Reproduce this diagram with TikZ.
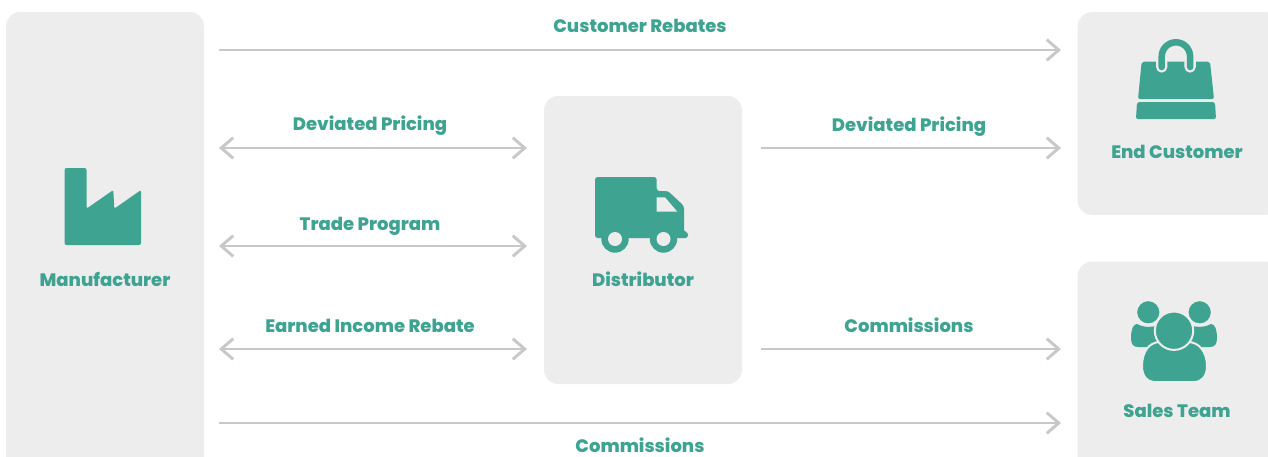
\documentclass[tikz,border=0pt]{standalone}
\usepackage{fontspec}
\setmainfont{Poppins}[BoldFont={Poppins ExtraBold}]
\usetikzlibrary{arrows.meta}
\definecolor{boxgray}{HTML}{EDEDED}
\definecolor{iconteal}{HTML}{3FA392}
\definecolor{linegray}{HTML}{C8C8C8}
\tikzset{
  panel/.style={fill=boxgray,rounded corners=10.5pt,minimum width=#1,inner sep=0pt,outer sep=0pt},
  lbl/.style={text=iconteal,font=\bfseries\fontsize{13.5pt}{16pt}\selectfont,inner sep=0pt,anchor=base},
  flow/.style={draw=linegray,line width=2.2pt,-{Straight Barb[length=9pt,width=15.5pt]}},
  flowboth/.style={flow,{Straight Barb[length=9pt,width=15.5pt]}-{Straight Barb[length=9pt,width=15.5pt]}},
  icon/.style={fill=iconteal,draw=none}
}
\begin{document}
\begin{tikzpicture}[x=0.75pt,y=-0.75pt]
\useasboundingbox (0,0) rectangle (1268,457);
\clip (0,0) rectangle (1268,457);
% panels
\node[panel=148.5pt,minimum height=390pt] (manufacturer) at (105,272) {};
\node[panel=148.5pt,minimum height=216pt] (distributor) at (643,240) {};
\node[panel=152pt,minimum height=152pt] (endcustomer) at (1179,113.5) {};
\node[panel=152pt,minimum height=200pt] (salesteam) at (1179,395) {};
% factory
\fill[icon,rounded corners=1.5pt] (64.5,168) -- (86.5,168) -- (86.5,208.7) -- (113.3,190) -- (114.3,208.7) -- (141,190) -- (141,245) -- (64.5,245) -- cycle;
% truck
\fill[icon,rounded corners=2pt] (595,177) -- (656.7,177) -- (656.7,191) -- (668,191) -- (684,206) -- (684,232) -- (688,232) -- (688,238) -- (595,238) -- cycle;
\fill[boxgray] (656.7,197.3) -- (665,197.3) -- (677.3,211.7) -- (656.7,211.7) -- cycle;
\fill[icon] (615,239) circle (13.7);
\fill[icon] (663.5,239) circle (13.7);
\fill[boxgray] (615,239) circle (7);
\fill[boxgray] (663.5,239) circle (7);
% bag
\fill[icon,rounded corners=1.5pt] (1141.7,61.7) -- (1210,61.7) -- (1214,99) -- (1138,99) -- cycle;
\fill[icon,rounded corners=1.5pt] (1137,102) -- (1215,102) -- (1216,119) -- (1136,119) -- cycle;
\draw[boxgray,line width=8.5pt,line cap=round] (1161.7,67) -- (1161.7,56.5) arc (180:360:14.2) -- (1190.1,67);
\draw[iconteal,line width=4.9pt,line cap=round] (1161.7,67) -- (1161.7,56.5) arc (180:360:14.2) -- (1190.1,67);
% team
\fill[icon] (1131,338) .. controls (1131,330) and (1133,324) .. (1137,324) .. controls (1142,327) and (1150,328) .. (1160,325) -- (1165,347) -- (1138,347) .. controls (1133,347) and (1131,344) .. (1131,338) -- cycle;
\fill[icon] (1217,338) .. controls (1217,330) and (1215,324) .. (1211,324) .. controls (1206,327) and (1198,328) .. (1188,325) -- (1183,347) -- (1210,347) .. controls (1215,347) and (1217,344) .. (1217,338) -- cycle;
\fill[icon,draw=boxgray,line width=1.5pt] (1148.3,312.3) circle (12.2);
\fill[icon,draw=boxgray,line width=1.5pt] (1199.7,312.3) circle (12.2);
\fill[icon,draw=boxgray,line width=1.5pt] (1142,366) .. controls (1142,352) and (1149,342) .. (1160,342) -- (1188,342) .. controls (1199,342) and (1207,352) .. (1207,366) .. controls (1207,376) and (1202,382) .. (1194,382) -- (1154,382) .. controls (1147,382) and (1142,376) .. (1142,366) -- cycle;
\fill[icon,draw=boxgray,line width=1.5pt] (1174,330.7) circle (19.2);
% labels
\node[lbl] (mfrlabel) at (105,286) {Manufacturer};
\node[lbl] (distlabel) at (643,286) {Distributor};
\node[lbl] (endlabel) at (1177,158) {End Customer};
\node[lbl] (saleslabel) at (1177,417) {Sales Team};
\node[lbl] (rebatelabel) at (640,32) {Customer Rebates};
\node[lbl] (pricelabel) at (370,130) {Deviated Pricing};
\node[lbl] (pricelabelb) at (909,131) {Deviated Pricing};
\node[lbl] (tradelabel) at (370,230) {Trade Program};
\node[lbl] (incomelabel) at (370,332) {Earned Income Rebate};
\node[lbl] (commlabel) at (909,332) {Commissions};
\node[lbl] (commlabelb) at (640,452) {Commissions};
% connector ends
\coordinate (rebatea) at (219,50);
\coordinate (rebateb) at (1061,50);
\coordinate (pricea) at (219,148);
\coordinate (priceb) at (527,148);
\coordinate (pricec) at (761,148);
\coordinate (priced) at (1061,148);
\coordinate (tradea) at (219,246);
\coordinate (tradeb) at (527,246);
\coordinate (incomea) at (219,349);
\coordinate (incomeb) at (527,349);
\coordinate (comma) at (761,349);
\coordinate (commb) at (1061,349);
\coordinate (commc) at (219,423);
\coordinate (commd) at (1061,423);
% connectors
\draw[flow] (rebatea) -- (rebateb);
\draw[flowboth] (pricea) -- (priceb);
\draw[flow] (pricec) -- (priced);
\draw[flowboth] (tradea) -- (tradeb);
\draw[flowboth] (incomea) -- (incomeb);
\draw[flow] (comma) -- (commb);
\draw[flow] (commc) -- (commd);
\end{tikzpicture}
\end{document}
